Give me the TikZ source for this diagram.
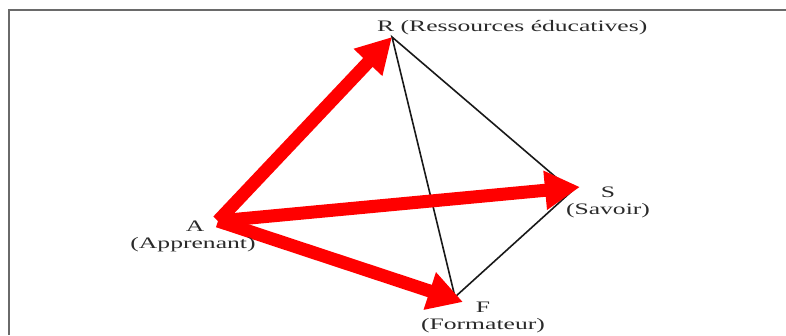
\documentclass[tikz,border=0pt]{standalone}
\usepackage{fontspec}
\usepackage{tikz}
\usetikzlibrary{arrows.meta}
\newfontfamily\labfont[FakeStretch=1.6]{Liberation Serif}
\definecolor{PoleRed}{HTML}{FF0000}
\definecolor{PoleFrame}{HTML}{6A6A6A}
\definecolor{PoleText}{HTML}{2A2A2A}
\tikzset{
  pole/.style={anchor=base,inner sep=0pt,text=PoleText,font=\labfont\fontsize{16}{18}\selectfont},
  side/.style={draw=black!90,line width=1.6pt},
  flow/.style={draw=PoleRed,line width=13pt,-{Triangle[length=35pt,width=37pt]}}
}

\begin{document}
\begin{tikzpicture}[x=1pt,y=-1pt]
\path[use as bounding box] (0,0) rectangle (786,335);
% frame
\draw[PoleFrame,line width=1.8pt] (9,335) -- (9,10) -- (786,10);
% vertices
\coordinate (A) at (218,221);
\coordinate (R) at (392,37);
\coordinate (S) at (572,191);
\coordinate (F) at (455,297);
\coordinate (Stip) at (580,187);
\coordinate (Ftip) at (463,302);
% triangle sides
\draw[side] (R) -- (S) -- (F) -- cycle;
% red arrows
\draw[flow] (A) -- (R);
\draw[flow] (A) -- (Stip);
\draw[flow] (A) -- (Ftip);
% labels
\node[pole,anchor=base west] (labR) at (377,31) {R (Ressources éducatives)};
\node[pole] (labA) at (195,231) {A};
\node[pole] (labAn) at (193,248) {(Apprenant)};
\node[pole] (labS) at (608,197) {S};
\node[pole] (labSn) at (608,214) {(Savoir)};
\node[pole] (labF) at (483,312) {F};
\node[pole] (labFn) at (483,329) {(Formateur)};
\end{tikzpicture}
\end{document}
